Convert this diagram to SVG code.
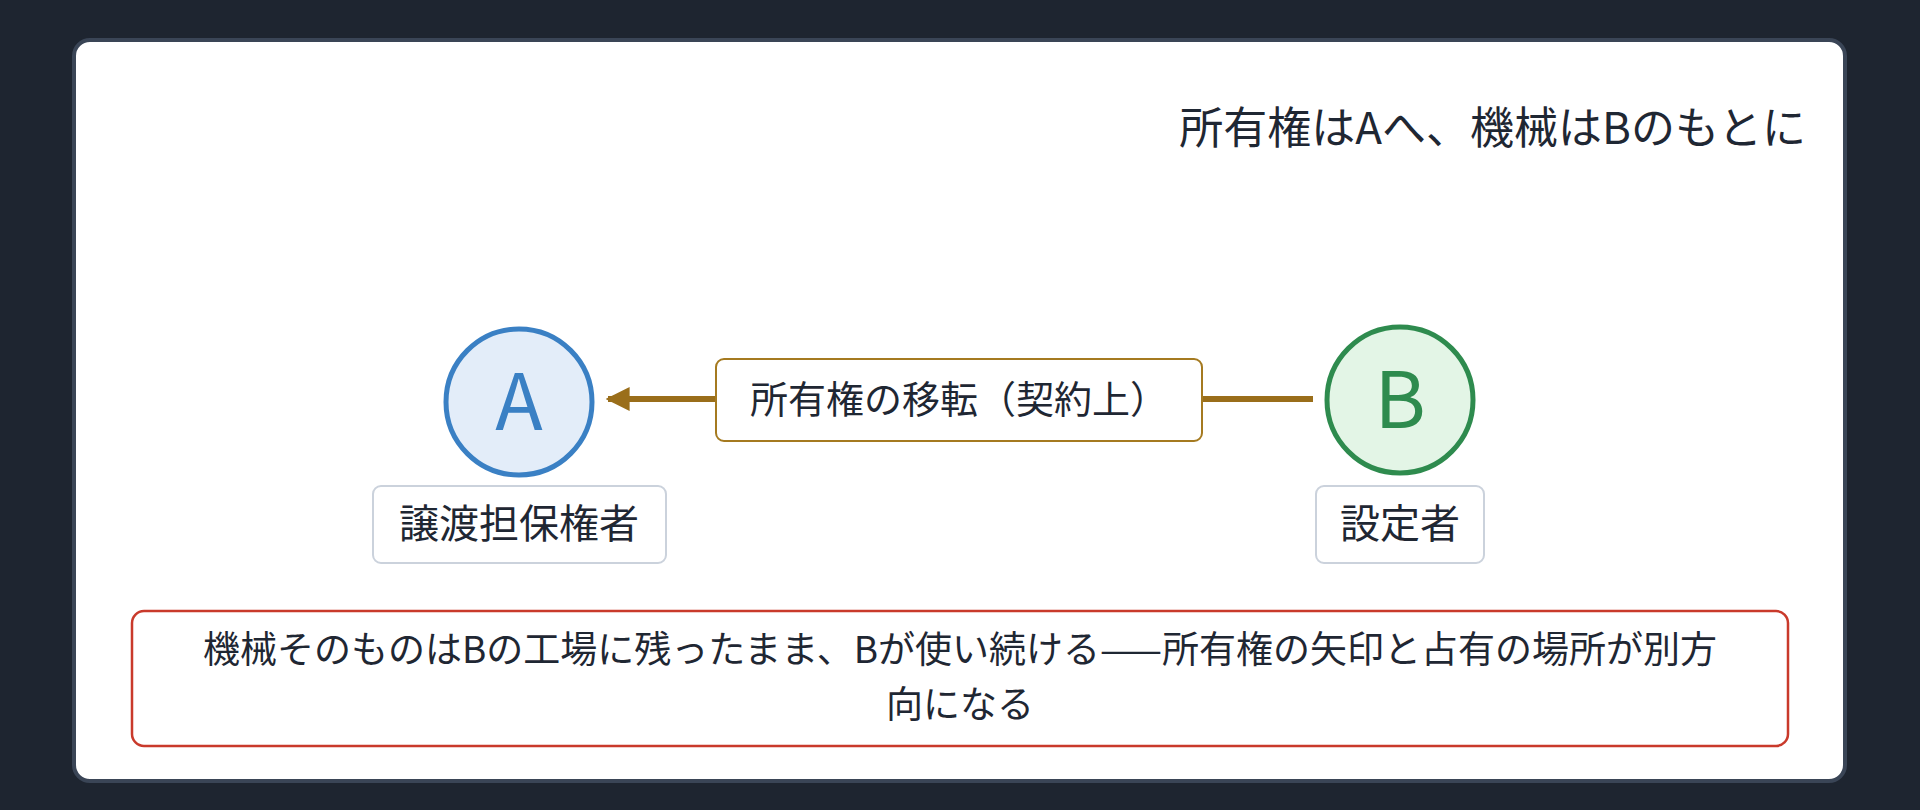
<svg xmlns="http://www.w3.org/2000/svg" width="1920" height="810" viewBox="0 0 1920 810">
<defs>
<style>
text{font-family:"Noto Sans CJK JP","Noto Sans",sans-serif;fill:#1f2733}
.lbl{fill:#fff;stroke:#cbd2dc;stroke-width:2}
</style>
<marker id="ah" viewBox="0 0 10 10" refX="9" refY="5" markerWidth="4" markerHeight="4" orient="auto-start-reverse"><path d="M0,0L10,5L0,10z" fill="#9a6e1a"/></marker>
</defs>
<rect width="1920" height="810" fill="#1e2530"/>
<rect x="74" y="40" width="1771" height="741" rx="16" fill="#fff" stroke="#3a4556" stroke-width="4"/>
<text x="1806" y="144" font-size="44" text-anchor="end">所有権はAへ、機械はBのもとに</text>
<g id="connectors">
<line x1="1313" y1="399" x2="608" y2="399" stroke="#9a6e1a" stroke-width="6" marker-end="url(#ah)"/>
<g id="edge-label">
<rect x="716" y="359" width="486" height="82" rx="8" fill="#fff" stroke="#a57a20" stroke-width="2"/>
<text x="959" y="413" font-size="38" text-anchor="middle">所有権の移転（契約上）</text>
</g>
</g>
<g id="nodeA">
<circle cx="519" cy="402" r="73" fill="#e3edf9" stroke="#3a80c4" stroke-width="5"/>
<text x="519" y="430" font-size="78" text-anchor="middle" style="fill:#3a80c4">A</text>
<rect class="lbl" x="373" y="486" width="293" height="77" rx="8"/>
<text x="519" y="538" font-size="40" text-anchor="middle">譲渡担保権者</text>
</g>
<g id="nodeB">
<circle cx="1400" cy="400" r="73" fill="#e3f5e6" stroke="#2e8b4e" stroke-width="5"/>
<text x="1400" y="428" font-size="78" text-anchor="middle" style="fill:#2e8b4e">B</text>
<rect class="lbl" x="1316" y="486" width="168" height="77" rx="8"/>
<text x="1400" y="538" font-size="40" text-anchor="middle">設定者</text>
</g>
<g id="note">
<rect x="132" y="611" width="1656" height="135" rx="12" fill="#fff" stroke="#c93a2b" stroke-width="2.5"/>
<text x="960" y="663" font-size="37" text-anchor="middle">機械そのものはBの工場に残ったまま、Bが使い続ける——所有権の矢印と占有の場所が別方</text>
<text x="960" y="718" font-size="37" text-anchor="middle">向になる</text>
</g>
</svg>
